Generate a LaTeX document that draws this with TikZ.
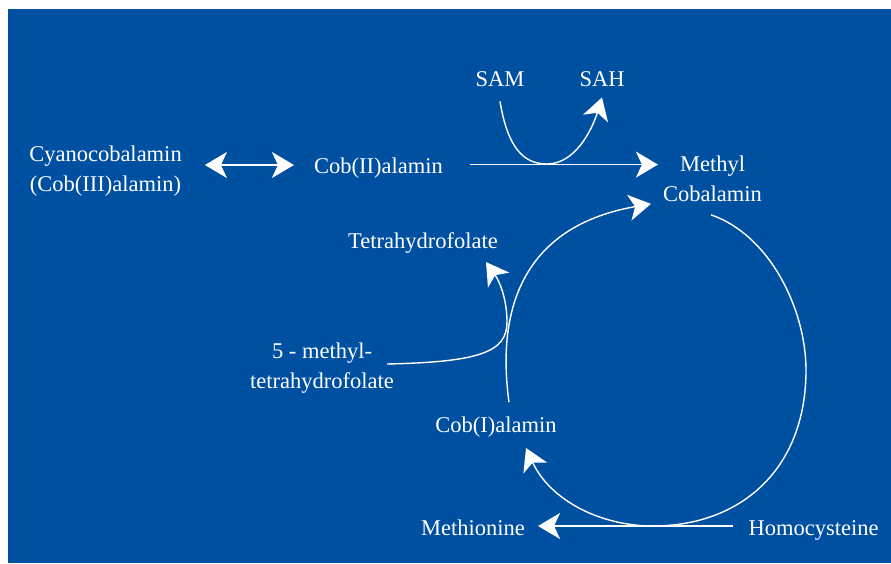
\documentclass[tikz,border=0pt]{standalone}
\usepackage{fontspec}
\setmainfont{Liberation Serif}
\usetikzlibrary{arrows.meta}

\definecolor{panelblue}{RGB}{0,80,162}

\tikzset{
  chem/.style={text=white, font=\fontsize{22.5}{29.5}\selectfont,
    inner sep=3pt, align=center},
  flow/.style={white, line width=1.4pt,
    -{Stealth[length=22pt,width=26pt,inset=6pt]}},
  dflow/.style={white, line width=1.4pt,
    {Stealth[length=22pt,width=26pt,inset=6pt]}-{Stealth[length=22pt,width=26pt,inset=6pt]}}
}

\begin{document}
\begin{tikzpicture}[x=1pt,y=-1pt]

  \useasboundingbox (0,0) rectangle (891,563);
  \fill[panelblue] (8,9) rectangle (891,563);

  % The compounds.
  \node[chem] (cyano) at (105.5,171) {Cyanocobalamin\\(Cob(III)alamin)};
  \node[chem, anchor=base] (cob2) at (378.5,173) {Cob(II)alamin};
  \node[chem] (methyl) at (712.5,179) {Methyl\\Cobalamin};
  \node[chem, anchor=base] (sam) at (500,86) {SAM};
  \node[chem, anchor=base] (sah) at (602,86) {SAH};
  \node[chem, anchor=base] (thf) at (423,248) {Tetrahydrofolate};
  \node[chem] (mthf) at (322,368) {5 - methyl-\\tetrahydrofolate};
  \node[chem, anchor=base] (cob1) at (496,432) {Cob(I)alamin};
  \node[chem, anchor=base] (meth) at (473,535) {Methionine};
  \node[chem, anchor=base] (homo) at (813.7,535) {Homocysteine};

  % Cyanocobalamin <-> Cob(II)alamin.
  \draw[dflow, shorten <=20pt, shorten >=17pt]
  ([yshift=6pt]cyano.east) -- ([yshift=6pt]cyano.east -| cob2.west);

  % Cob(II)alamin -> methyl cobalamin, with SAM -> SAH.
  \draw[flow, shorten <=24pt, shorten >=2pt]
  ([yshift=3pt]cob2.east) -- ([yshift=3pt]cob2.east -| methyl.west);
  \draw[flow] ([yshift=-12pt]sam.south)
  .. controls (508,150) and (525,164) .. (547,164)
  .. controls (575,164) and (592,130) .. ([yshift=-8pt]sah.south);

  % 5-methyl-tetrahydrofolate -> tetrahydrofolate.
  \draw[flow] ([xshift=-10pt,yshift=4pt]mthf.east)
  .. controls (480,362) and (507,352) .. (507,322)
  .. controls (507,300) and (500,282) .. ([xshift=63pt,yshift=-6pt]thf.south);

  % Cob(I)alamin -> methyl cobalamin.
  \draw[flow] ([xshift=13pt,yshift=11pt]cob1.north)
  .. controls (495,300) and (530,225) .. ([xshift=-9pt,yshift=1pt]methyl.south west);

  % Methyl cobalamin -> Cob(I)alamin, round the right side.
  \draw[flow] ([xshift=-1.5pt,yshift=-10pt]methyl.south)
  .. controls (770,235) and (806,310) .. (806,370)
  .. controls (806,470) and (740,526) .. (653,526)
  .. controls (600,526) and (550,500) .. ([xshift=30pt,yshift=-8pt]cob1.south);

  % Homocysteine -> methionine.
  \draw[flow, shorten <=13pt, shorten >=10pt]
  ([yshift=4pt]homo.west) -- ([yshift=4pt]homo.west -| meth.east);

\end{tikzpicture}
\end{document}
